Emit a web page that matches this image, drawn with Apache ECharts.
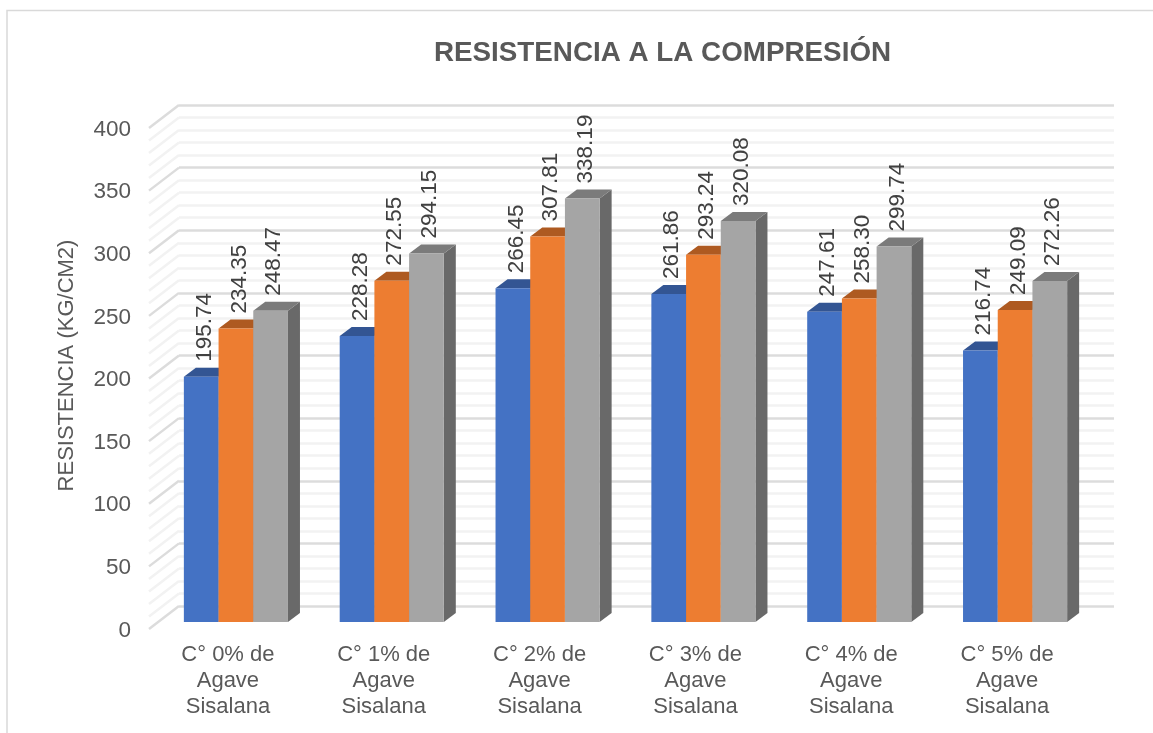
<!DOCTYPE html>
<html><head><meta charset="utf-8">
<style>html,body{margin:0;padding:0;background:#fff}#c{width:1153px;height:733px}</style>
<script src="https://cdn.jsdelivr.net/npm/echarts@6/dist/echarts.min.js"></script>
</head><body><div id="c"></div>
<script>
const categories = ['C° 0% de\nAgave\nSisalana','C° 1% de\nAgave\nSisalana','C° 2% de\nAgave\nSisalana','C° 3% de\nAgave\nSisalana','C° 4% de\nAgave\nSisalana','C° 5% de\nAgave\nSisalana'];
const serieA = [195.74,228.28,266.45,261.86,247.61,216.74];
const serieB = [234.35,272.55,307.81,293.24,258.30,249.09];
const serieC = [248.47,294.15,338.19,320.08,299.74,272.26];
const wallTicks = [0,10,20,30,40,50,60,70,80,90,100,110,120,130,140,150,160,170,180,190,200,210,220,230,240,250,260,270,280,290,300,310,320,330,340,350,360,370,380,390,400];
const title = 'RESISTENCIA A LA COMPRESIÓN';
const yName = 'RESISTENCIA (KG/CM2)';

const TXT = '#595959', FONT = '"Liberation Sans", Arial, sans-serif';
const DX = 12, DY = 9, BARW = 34.7;
const palettes = [
  {front:'#4472C4', top:'#335593', side:'#2f5190'},
  {front:'#ED7D31', top:'#AE5A21', side:'#a8561f'},
  {front:'#A5A5A5', top:'#7B7B7B', side:'#696969'}
];
function barSeries(values, idx){
  const p = palettes[idx];
  return {
    type:'custom', xAxisIndex:2, yAxisIndex:2, z:5+idx, clip:false,
    data: values.map((v,i)=>[i,v]),
    encode:{x:0,y:1},
    renderItem(params, api){
      const top = api.coord([api.value(0), api.value(1)]);
      const base = api.coord([api.value(0), 0]);
      const x0 = top[0] + (idx-1.5)*BARW, x1 = x0+BARW, yt = top[1], yb = base[1];
      return {type:'group', children:[
        {type:'polygon', shape:{points:[[x1,yt],[x1+DX,yt-DY],[x1+DX,yb-DY],[x1,yb]]}, style:{fill:p.side}},
        {type:'polygon', shape:{points:[[x0,yt],[x0+DX,yt-DY],[x1+DX,yt-DY],[x1,yt]]}, style:{fill:p.top}},
        {type:'rect', shape:{x:x0,y:yt,width:BARW,height:yb-yt}, style:{fill:p.front}},
        {type:'text', x:x0+BARW/2+3.5, y:yt-DY-6, rotation:Math.PI/2,
         style:{text:api.value(1).toFixed(2), fill:'#404040', font:'22.5px '+FONT, align:'left', verticalAlign:'middle'}}
      ]};
    }
  };
}
const chart = echarts.init(document.getElementById('c'), null, {renderer:'canvas'});
chart.setOption({
  animation:false,
  backgroundColor:'#fff',
  title:{text:title, left:657.5, top:34, textAlign:'center',
    textStyle:{color:TXT, fontFamily:FONT, fontSize:27.8, fontWeight:'bold'}},
  graphic:[
    {type:'polyline', shape:{points:[[7,733],[7,10.5],[1153,10.5]]}, style:{stroke:'#d9d9d9', lineWidth:1.5, fill:null}, silent:true}
  ],
  grid:[
    {left:179, width:935, top:105, height:501},
    {left:150, width:935, top:129.5, height:501},
    {left:158, width:935, top:121, height:501}
  ],
  xAxis:[
    {gridIndex:0, type:'category', data:categories, show:false},
    {gridIndex:1, type:'category', data:categories, axisLine:{show:false}, axisTick:{show:false},
     axisLabel:{color:TXT, fontFamily:FONT, fontSize:22, lineHeight:26, margin:11, interval:0}},
    {gridIndex:2, type:'category', data:categories, show:false}
  ],
  yAxis:[
    {gridIndex:0, type:'value', min:0, max:400, interval:50, axisLine:{show:false}, axisTick:{show:false}, axisLabel:{show:false},
     splitLine:{show:true, lineStyle:{color:'#dcdcdc', width:2.5}},
     minorTick:{show:false, splitNumber:5},
     minorSplitLine:{show:true, lineStyle:{color:'#f2f2f2', width:2.5}}},
    {gridIndex:1, type:'value', min:0, max:400, interval:50, axisLine:{show:false}, axisTick:{show:false}, splitLine:{show:false},
     name:yName, nameLocation:'middle', nameGap:72, nameRotate:90,
     nameTextStyle:{color:TXT, fontFamily:FONT, fontSize:22, padding:[0,0,0,29]},
     axisLabel:{color:TXT, fontFamily:FONT, fontSize:22.5, margin:19}},
    {gridIndex:2, type:'value', min:0, max:400, show:false, splitLine:{show:false}}
  ],
  series:[
    {type:'custom', xAxisIndex:0, yAxisIndex:0, z:1, clip:false, data:wallTicks.map(v=>[0,v]), encode:{x:0,y:1},
     renderItem(params, api){
       const v = api.value(1), c = api.coord([0,v]), w = api.size([1,0])[0];
       const major = v % 50 === 0, x = c[0]-w/2;
       return {type:'line', shape:{x1:x, y1:c[1], x2:x-30, y2:c[1]+23},
         style:{stroke: major?'#dcdcdc':'#f2f2f2', lineWidth:2.5}};
     }},
    barSeries(serieA,0), barSeries(serieB,1), barSeries(serieC,2)
  ]
});
</script></body></html>
